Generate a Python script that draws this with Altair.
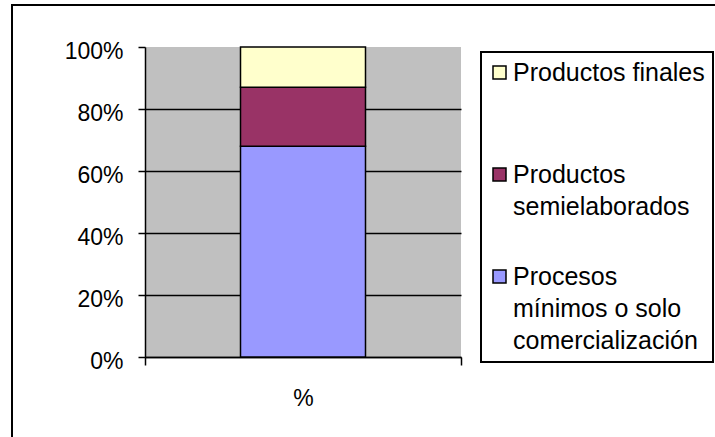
import json
import altair as alt
import pandas as pd

# Share of each processing stage (percent of the total)
categorias = [
    "Procesos mínimos o solo comercialización",
    "Productos semielaborados",
    "Productos finales",
]
valores = [68, 19, 13]
colores = ["#9999FF", "#993366", "#FFFFCC"]
eje_x = "%"

# Line breaks used in the legend labels
lineas_leyenda = {
    "Productos finales": ["Productos finales"],
    "Productos semielaborados": ["Productos", "semielaborados"],
    "Procesos mínimos o solo comercialización": ["Procesos", "mínimos o solo", "comercialización"],
}

df = pd.DataFrame({
    "grupo": [eje_x] * len(categorias),
    "categoria": categorias,
    "valor": valores,
    "orden": list(range(len(categorias))),
})

# legend lists the top segment first
dominio = categorias[::-1]
rango = colores[::-1]

label_expr = "datum.label"
for nombre, partes in lineas_leyenda.items():
    label_expr = f"datum.label == {json.dumps(nombre, ensure_ascii=False)} ? {json.dumps(partes, ensure_ascii=False)} : ({label_expr})"

FONT = "Liberation Sans"

marco = alt.Chart(alt.Data(values=[{}])).mark_rect(
    fill="transparent", stroke="black", strokeWidth=2, clip=False
).encode(
    x=alt.value(-133), x2=alt.value(700),
    y=alt.value(-42), y2=alt.value(500),
)

barras = alt.Chart(df).mark_bar(stroke="black", strokeWidth=1.5, size=125).encode(
    x=alt.X(
        "grupo:N",
        title=None,
        scale=alt.Scale(paddingInner=0, paddingOuter=0),
        axis=alt.Axis(
            labelAngle=0, tickBand="extent", tickSize=8, tickColor="black",
            tickWidth=1.5, domainColor="black", domainWidth=1.5,
            labelFontSize=23, labelColor="black", labelPadding=22,
            grid=False,
        ),
    ),
    y=alt.Y(
        "valor:Q",
        stack="normalize",
        title=None,
        scale=alt.Scale(domain=[0, 1], nice=False),
        axis=alt.Axis(
            values=[0, 0.2, 0.4, 0.6, 0.8, 1.0], format=".0%",
            tickSize=7, tickColor="black", tickWidth=1.5,
            domainColor="black", domainWidth=1.5,
            labelFontSize=23, labelColor="black", labelPadding=15, labelOffset=4,
            grid=True, gridColor="black", gridWidth=1.5,
            gridOpacity={"condition": {"test": "datum.value >= 1", "value": 0}, "value": 1},
        ),
    ),
    color=alt.Color(
        "categoria:N",
        scale=alt.Scale(domain=dominio, range=rango),
        legend=alt.Legend(
            title=None, orient="none", legendX=336, legendY=5,
            labelFontSize=25, labelColor="black", labelLimit=0, labelOffset=1,
            labelBaseline="middle", labelExpr=label_expr,
            symbolType="square", symbolSize=169, symbolStrokeColor="black",
            symbolStrokeWidth=1.5, symbolOpacity=1, symbolOffset=-2,
            strokeColor="black", fillColor="white", padding=8,
            rowPadding=12, gridAlign="all",
        ),
    ),
    order=alt.Order("orden:Q"),
)

chart = alt.layer(marco, barras).properties(
    width=316, height=310,
    autosize=alt.AutoSizeParams(type="none"),
    padding={"left": 145, "top": 47, "right": 254, "bottom": 80},
    background="white",
).configure(
    font=FONT, style={"guide-label": {"lineHeight": 32}}
).configure_view(
    fill="#C0C0C0", stroke=None
).configure_legend(strokeWidth=2)

chart.save("out.html", embed_options={"renderer": "svg", "actions": False})
